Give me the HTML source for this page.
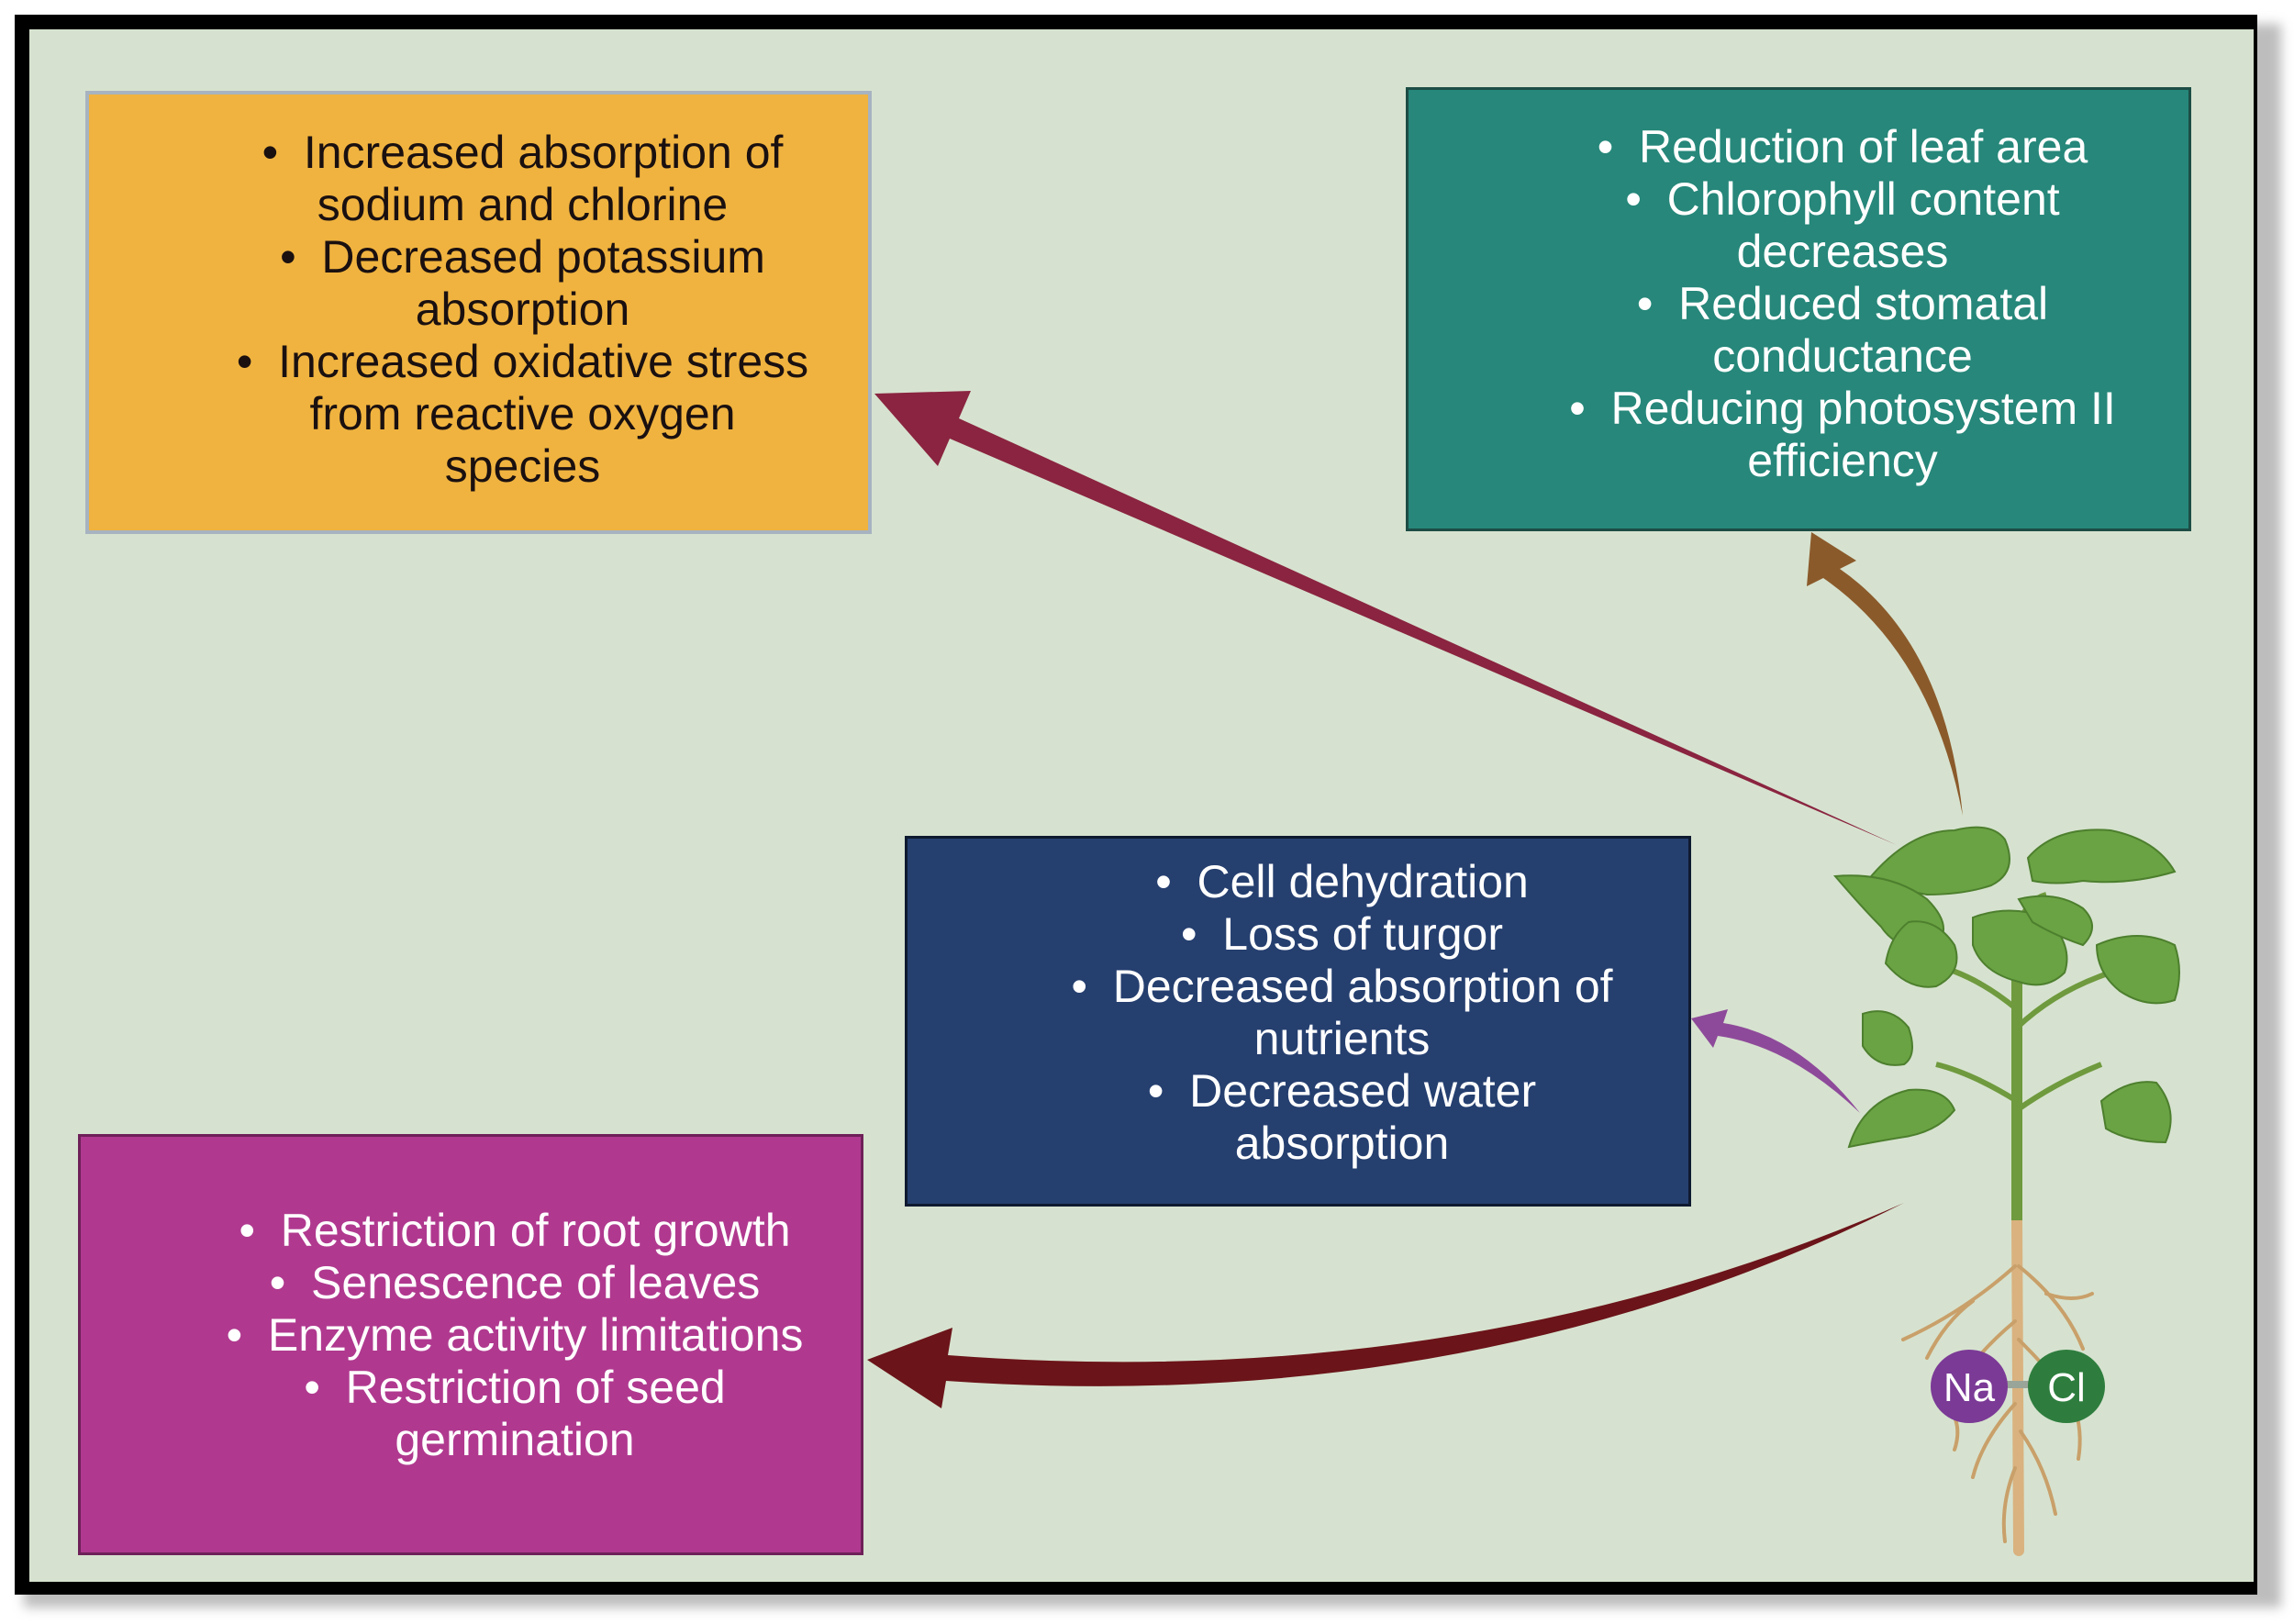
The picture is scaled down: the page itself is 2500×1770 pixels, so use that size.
<!DOCTYPE html>
<html><head><meta charset="utf-8"><style>
html,body{margin:0;padding:0}
body{width:2500px;height:1770px;position:relative;background:#fff;overflow:hidden;font-family:"Liberation Sans",sans-serif}
#shadow{position:absolute;left:26px;top:26px;width:2460px;height:1726px;background:#bdbdbd;filter:blur(6px)}
#frame{position:absolute;left:16px;top:16px;width:2444px;height:1722px;background:#000}
#bg{position:absolute;left:32px;top:32px;width:2424px;height:1692px;background:#d6e2cf}
.box{position:absolute;box-sizing:border-box;text-align:center;font-size:50px;line-height:57px;padding-left:96px}
.box div{white-space:nowrap}
svg{position:absolute;left:0;top:0}
</style></head><body>
<div id="shadow"></div>
<div id="frame"></div>
<div id="bg"></div>

<div class="box" style="left:93px;top:99px;width:857px;height:483px;background:#f0b33f;border:4px solid #a7b3c0;color:#1a1010;padding-top:35px">
<div>•&nbsp; Increased absorption of</div>
<div>sodium and chlorine</div>
<div>•&nbsp; Decreased potassium</div>
<div>absorption</div>
<div>•&nbsp; Increased oxidative stress</div>
<div>from reactive oxygen</div>
<div>species</div>
</div>

<div class="box" style="left:1532px;top:95px;width:856px;height:484px;background:#26877a;border:3px solid #1d4d45;color:#fff;padding-top:34px">
<div>•&nbsp; Reduction of leaf area</div>
<div>•&nbsp; Chlorophyll content</div>
<div>decreases</div>
<div>•&nbsp; Reduced stomatal</div>
<div>conductance</div>
<div>•&nbsp; Reducing photosystem II</div>
<div>efficiency</div>
</div>

<div class="box" style="left:986px;top:911px;width:857px;height:404px;background:#253f6f;border:3px solid #0e1a30;color:#fff;padding-top:19px">
<div>•&nbsp; Cell dehydration</div>
<div>•&nbsp; Loss of turgor</div>
<div>•&nbsp; Decreased absorption of</div>
<div>nutrients</div>
<div>•&nbsp; Decreased water</div>
<div>absorption</div>
</div>

<div class="box" style="left:85px;top:1236px;width:856px;height:459px;background:#b0398f;border:3px solid #6e2058;color:#fff;padding-top:74px">
<div>•&nbsp; Restriction of root growth</div>
<div>•&nbsp; Senescence of leaves</div>
<div>•&nbsp; Enzyme activity limitations</div>
<div>•&nbsp; Restriction of seed</div>
<div>germination</div>
</div>

<svg width="2500" height="1770" viewBox="0 0 2500 1770">
<polygon points="2067,921 1045,456 1058,426 953,429 1022,508 1035,478" fill="#8a2440"/>
<path d="M2139,889 Q2120,700 2005,620 L2023,611 L1974,580 L1969,639 L1987,630 Q2105,712 2139,889 Z" fill="#8b5a2b"/>
<path d="M2027,1213 Q1960,1128 1878,1115 L1883,1100 L1843,1110 L1867,1142 L1872,1129 Q1950,1140 2027,1213 Z" fill="#8e4a9a"/>
<path d="M2075,1311 Q1600,1520 1033,1477 L1038,1447 L945,1482 L1026,1535 L1031,1505 Q1610,1545 2075,1311 Z" fill="#6b1419"/>

<g stroke="#c9a06a" fill="none" stroke-width="4" stroke-linecap="round">
<path d="M2198,1330 L2200,1690" stroke-width="12" stroke="#d9b27f"/>
<path d="M2196,1380 Q2140,1430 2074,1460"/>
<path d="M2150,1418 Q2120,1440 2100,1480"/>
<path d="M2200,1380 Q2250,1420 2270,1470"/>
<path d="M2230,1410 Q2260,1420 2280,1410"/>
<path d="M2196,1440 Q2160,1470 2140,1500"/>
<path d="M2200,1460 Q2240,1500 2270,1540"/>
<path d="M2196,1530 Q2160,1570 2150,1610"/>
<path d="M2202,1560 Q2230,1600 2240,1650"/>
<path d="M2196,1600 Q2180,1640 2185,1680"/>
<path d="M2120,1530 Q2140,1550 2130,1580"/>
<path d="M2260,1530 Q2270,1560 2265,1590"/>
</g>
<path d="M2198,1000 L2198,1330" stroke="#6f9a3e" stroke-width="12"/>
<g stroke="#6f9a3e" stroke-width="6" fill="none">
<path d="M2198,1100 Q2150,1060 2100,1050"/>
<path d="M2198,1120 Q2240,1080 2300,1060"/>
<path d="M2198,1200 Q2150,1170 2110,1160"/>
<path d="M2198,1210 Q2240,1180 2290,1160"/>
<path d="M2198,1010 Q2210,980 2230,975"/>
</g>
<g fill="#6aa343" stroke="#4d7f2e" stroke-width="2">
<path d="M2035,960 Q2080,905 2130,905 Q2170,895 2185,915 Q2200,950 2170,965 Q2140,975 2100,975 Q2070,970 2035,960Z"/>
<path d="M2210,935 Q2240,900 2300,905 Q2350,915 2370,950 Q2320,965 2270,960 Q2240,965 2215,960Z"/>
<path d="M2000,955 Q2060,950 2100,980 Q2130,1010 2110,1030 Q2070,1040 2050,1010 Q2030,990 2000,955Z"/>
<path d="M2080,1005 Q2110,1000 2130,1030 Q2140,1060 2110,1075 Q2080,1080 2055,1050 Q2060,1020 2080,1005Z"/>
<path d="M2150,1000 Q2190,985 2230,1000 Q2260,1030 2250,1060 Q2230,1080 2200,1070 Q2160,1060 2150,1030Z"/>
<path d="M2200,980 Q2240,970 2270,990 Q2290,1010 2270,1030 Q2240,1020 2215,1005Z"/>
<path d="M2285,1030 Q2330,1010 2370,1030 Q2380,1060 2370,1090 Q2340,1100 2310,1080 Q2285,1060 2285,1030Z"/>
<path d="M2030,1105 Q2060,1095 2080,1120 Q2090,1150 2075,1160 Q2045,1165 2030,1140Z"/>
<path d="M2015,1250 Q2030,1200 2080,1188 Q2120,1185 2130,1210 Q2110,1235 2070,1240 Q2040,1245 2015,1250Z"/>
<path d="M2290,1200 Q2320,1175 2350,1180 Q2375,1210 2360,1245 Q2320,1245 2295,1230Z"/>
</g>
<rect x="2180" y="1505" width="40" height="8" fill="#9aa59a"/>
<ellipse cx="2146" cy="1511" rx="42" ry="40" fill="#7b3a96"/>
<ellipse cx="2252" cy="1511" rx="42" ry="40" fill="#2e7d3e"/>
<text x="2146" y="1527" font-size="44" fill="#fff" text-anchor="middle" font-family="Liberation Sans, sans-serif">Na</text>
<text x="2252" y="1527" font-size="44" fill="#fff" text-anchor="middle" font-family="Liberation Sans, sans-serif">Cl</text>
</svg>
</body></html>
